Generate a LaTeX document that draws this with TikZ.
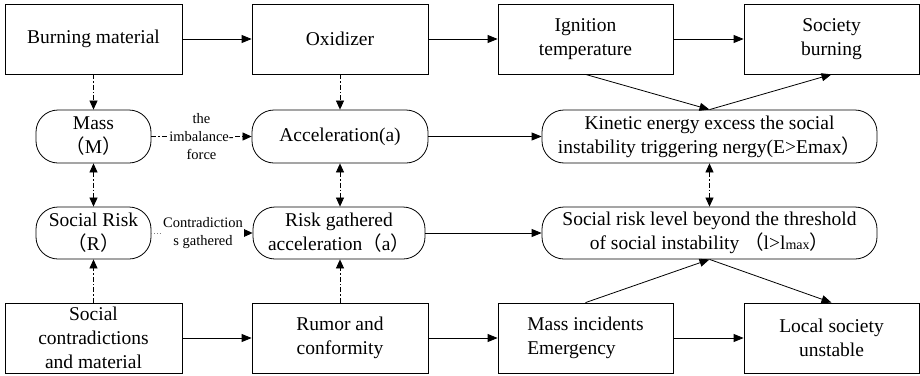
\documentclass[tikz,border=0pt]{standalone}
\usepackage{fontspec}
\setmainfont{Liberation Serif}
\newfontfamily\cjkfont{Noto Sans CJK SC}
\newcommand{\fwl}{{\cjkfont （}}
\newcommand{\fwr}{{\cjkfont ）}}
\usetikzlibrary{arrows.meta}
\begin{document}
\begin{tikzpicture}[x=1pt,y=-1pt,
  base/.style={draw, line width=0.8pt, inner sep=0pt, align=center,
    font=\rmfamily\fontsize{19.5}{24}\selectfont},
  box/.style={base, minimum height=70pt},
  pill/.style={base, minimum height=53pt, rounded corners=22pt},
  arr/.style={line width=0.8pt, -{Triangle[length=10pt,width=8pt]}},
  dd/.style={line width=0.7pt, dash pattern=on 5pt off 2pt on 1.5pt off 2pt},
  tip/.style={-{Triangle[length=9pt,width=8pt,color=black]}},
  tips/.style={{Triangle[length=9pt,width=8pt]}-{Triangle[length=9pt,width=8pt]}},
  lbl/.style={fill=white, text=black, inner sep=1pt, align=center,
    font=\rmfamily\fontsize{14.5}{18}\selectfont}
]
\useasboundingbox (0,0) rectangle (920,375);
% top row
\node[box, minimum width=177pt] (bm) at (93.5,39) {Burning material};
\node[box, minimum width=176pt] (ox) at (340,39) {Oxidizer};
\node[box, minimum width=175pt] (ig) at (585.5,39) {Ignition\\temperature};
\node[box, minimum width=175pt] (sb) at (831.5,39) {Society\\burning};
% second row
\node[pill, minimum width=115pt] (ma) at (93.5,136.5) {Mass\\\fwl M\fwr};
\node[pill, minimum width=176pt] (ac) at (340,136.5) {Acceleration(a)};
\node[pill, minimum width=335pt] (ke) at (709.5,136.5) {Kinetic energy excess the social\\instability triggering nergy(E>Emax\fwr};
% third row
\node[pill, minimum width=115pt, minimum height=52pt] (sr) at (93.5,233) {Social Risk\\\fwl R\fwr};
\node[pill, minimum width=172pt, minimum height=52pt] (rg) at (339,233) {Risk gathered\\acceleration\fwl a\fwr};
\node[pill, minimum width=335pt, minimum height=52pt] (sl) at (709.5,233) {Social risk level beyond the threshold\\of social instability \fwl l>l{\fontsize{14}{14}\selectfont max}\fwr};
% bottom row
\node[box, minimum width=177pt] (sc) at (93.5,338) {Social\\contradictions\\and material};
\node[box, minimum width=176pt] (ru) at (340,338) {Rumor and\\conformity};
\node[box, minimum width=175pt, align=left] (mi) at (585.5,338) {Mass incidents\\Emergency};
\node[box, minimum width=175pt] (ls) at (831.5,338) {Local society\\unstable};
% solid arrows
\draw[arr] (bm) -- (ox);
\draw[arr] (ox) -- (ig);
\draw[arr] (ig) -- (sb);
\draw[arr] (ac) -- (ke);
\draw[arr] (rg) -- (sl);
\draw[arr] (sc) -- (ru);
\draw[arr] (ru) -- (mi);
\draw[arr] (mi) -- (ls);
\draw[arr] (ig.south) -- (ke.north);
\draw[arr] (ke.north) -- (sb.south);
\draw[arr] (mi.north) -- (sl.south);
\draw[arr] (sl.south) -- (ls.north);
% dash-dot arrows
\draw[dd, tip] (bm) -- (ma);
\draw[dd, tip] (ox) -- (ac);
\draw[dd, tips] (ma) -- (sr);
\draw[dd, tips] (ac) -- (rg.north -| ac.south);
\draw[dd, tips] (ke) -- (sl);
\draw[dd, tip] (sc.north) -- (sr.south);
\draw[dd, tip] (ru.north) -- (rg.south -| ru.north);
\draw[dd, tip] (ma) -- node[lbl] {the\\imbalance-\\force} (ac);
\draw[line width=0.7pt, gray, dotted, tip] (sr) -- node[lbl, xshift=1pt] {Contradiction\\s gathered} (rg);
\end{tikzpicture}
\end{document}
